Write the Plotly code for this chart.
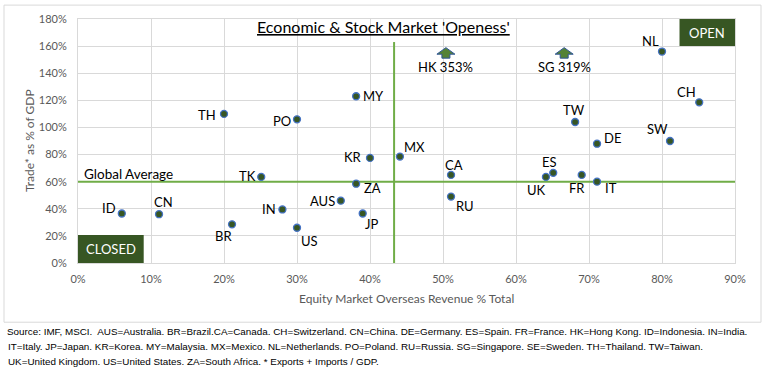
import plotly.graph_objects as go

# ---------------- data ----------------
countries = ["TH", "PO", "MY", "KR", "MX", "NL", "CH", "TW", "DE", "SW", "TK", "ZA", "ID",
             "CN", "BR", "IN", "US", "AUS", "JP", "CA", "RU", "UK", "ES", "FR", "IT"]
overseas_rev = [20.0, 30.0, 38.1, 40.0, 44.1, 80.0, 85.1, 68.1, 71.1, 81.1, 25.1, 38.1, 6.0,
                11.1, 21.1, 28.0, 30.0, 36.0, 39.0, 51.1, 51.1, 64.1, 65.1, 69.0, 71.1]
trade_gdp = [110.0, 106.0, 123.0, 77.5, 78.5, 156.0, 118.5, 104.0, 88.0, 90.0, 63.5, 58.5, 36.5,
             36.0, 28.5, 39.5, 26.0, 46.0, 36.5, 65.0, 49.0, 63.5, 66.5, 65.0, 60.0]

# off-scale economies (shown with an arrow at the top of the chart)
off_names = ["HK", "SG"]
off_rev = [50.4, 66.6]
off_trade = [353, 319]
off_display_level = 155

global_avg_trade = 60
avg_overseas_rev = 43.3
avg_line_top = 163

x_ticks = [0, 10, 20, 30, 40, 50, 60, 70, 80, 90]
y_ticks = [0, 20, 40, 60, 80, 100, 120, 140, 160, 180]
x_tick_labels = [f"{v}%" for v in x_ticks]
y_tick_labels = [f"{v}%" for v in y_ticks]

# ---------------- styles ----------------
FONT = "Lato, Open Sans, Liberation Sans, sans-serif"
GREEN_LINE = "#70AD47"
DARK_GREEN = "#375623"
BLUE = "#4472C4"
GRID = "#D9D9D9"
TICK_COL = "#595959"

# label placement: (xanchor, dx px, dy px (screen, down positive))
label_pos = {
    "TH": ("right", -7, 1), "PO": ("right", -5.5, 1.7), "MY": ("left", 5.4, 0),
    "KR": ("right", -6.7, -1), "MX": ("left", 2.7, -9.3), "NL": ("right", -1.6, -11),
    "CH": ("right", -2, -10), "TW": ("center", -1.3, -12.3), "DE": ("left", 5.7, -5.7),
    "SW": ("right", -0.6, -11.7), "TK": ("right", -4.6, -1), "ZA": ("left", 7, 4.4),
    "ID": ("right", -5, -6), "CN": ("center", 4, -12.6), "BR": ("center", -8.5, 11.4),
    "IN": ("right", -5.7, 0), "US": ("left", 2.7, 13), "AUS": ("right", -5, 0),
    "JP": ("left", 1.7, 10.7), "CA": ("center", 2.5, -10.3), "RU": ("left", 4.4, 9.7),
    "UK": ("right", 1, 12.7), "ES": ("center", -3.6, -11.3), "FR": ("center", -4.3, 13.4),
    "IT": ("left", 6.7, 6.4),
}

# plot-area geometry (pixels)
W, H = 766, 372
L, R, T, B = 78, 31, 17, 109
PW, PH = W - L - R, H - T - B
XMAX, YMAX = 90, 180
px_x = XMAX / PW   # data units per pixel
px_y = YMAX / PH


def paper_x(px):
    return (px - L) / PW


def paper_y(py):
    return (H - B - py) / PH


fig = go.Figure()

# reference lines
fig.add_trace(go.Scatter(x=[0, XMAX], y=[global_avg_trade, global_avg_trade], mode="lines",
                         line=dict(color=GREEN_LINE, width=2), hoverinfo="skip", showlegend=False))
fig.add_trace(go.Scatter(x=[avg_overseas_rev, avg_overseas_rev], y=[0, avg_line_top], mode="lines",
                         line=dict(color=GREEN_LINE, width=2), hoverinfo="skip", showlegend=False))

# countries
fig.add_trace(go.Scatter(x=overseas_rev, y=trade_gdp, mode="markers", text=countries,
                         marker=dict(size=7, color=DARK_GREEN, line=dict(color=BLUE, width=1.3)),
                         showlegend=False))

annotations = []
for name, xv, yv in zip(countries, overseas_rev, trade_gdp):
    anchor, dx, dy = label_pos[name]
    annotations.append(dict(x=xv, y=yv, xref="x", yref="y", text=name, showarrow=False,
                            xanchor=anchor, yanchor="middle", xshift=dx, yshift=-dy,
                            borderpad=0, font=dict(family=FONT, size=13, color="#000000")))

shapes = []
# off-scale arrows
for name, xv, val in zip(off_names, off_rev, off_trade):
    yc = off_display_level
    hw, sw = 9 * px_x, 4 * px_x
    top, base, bot = yc + 5.3 * px_y, yc - 1.3 * px_y, yc - 5.3 * px_y
    path = (f"M{xv},{top} L{xv + hw},{base} L{xv + sw},{base} L{xv + sw},{bot} "
            f"L{xv - sw},{bot} L{xv - sw},{base} L{xv - hw},{base} Z")
    shapes.append(dict(type="path", path=path, xref="x", yref="y",
                       fillcolor="#548235", line=dict(color="#2F5597", width=1)))
    annotations.append(dict(x=xv, y=yc, xref="x", yref="y", text=f"{name} {val}%", showarrow=False,
                            xanchor="center", yanchor="middle", yshift=-14, borderpad=0,
                            font=dict(family=FONT, size=13, color="#000000")))

# OPEN / CLOSED boxes
shapes.append(dict(type="rect", xref="x", yref="y", x0=82.4, x1=90, y0=160, y1=180,
                   fillcolor=DARK_GREEN, line=dict(width=0), layer="above"))
shapes.append(dict(type="rect", xref="x", yref="y", x0=0, x1=9, y0=0, y1=20.7,
                   fillcolor=DARK_GREEN, line=dict(width=0), layer="above"))
annotations.append(dict(x=86.2, y=170, xref="x", yref="y", text="OPEN", showarrow=False,
                        font=dict(family=FONT, size=13, color="white")))
annotations.append(dict(x=4.5, y=10.3, xref="x", yref="y", text="CLOSED", showarrow=False,
                        font=dict(family=FONT, size=13, color="white")))

annotations.append(dict(x=paper_x(83), y=global_avg_trade, xref="paper", yref="y", text="Global Average",
                        showarrow=False, xanchor="left", yanchor="middle", yshift=8, borderpad=0,
                        font=dict(family=FONT, size=13.5, color="#000000")))

# title
annotations.append(dict(x=paper_x(383), y=paper_y(25), xref="paper", yref="paper",
                        text="<u>Economic &amp; Stock Market 'Openess'</u>", showarrow=False,
                        xanchor="center", yanchor="middle",
                        font=dict(family=FONT, size=16, color="#000000")))

# axis titles
annotations.append(dict(x=paper_x(406), y=paper_y(299), xref="paper", yref="paper",
                        text="Equity Market Overseas Revenue % Total", showarrow=False,
                        xanchor="center", yanchor="middle",
                        font=dict(family=FONT, size=12, color=TICK_COL)))
annotations.append(dict(x=paper_x(29), y=paper_y(140), xref="paper", yref="paper",
                        text="Trade* as % of GDP", showarrow=False, textangle=-90,
                        xanchor="center", yanchor="middle",
                        font=dict(family=FONT, size=12, color=TICK_COL)))

# source notes
source_lines = [
    "Source: IMF, MSCI.  AUS=Australia. BR=Brazil.CA=Canada. CH=Switzerland. CN=China. DE=Germany. ES=Spain. FR=France. HK=Hong Kong. ID=Indonesia. IN=India.",
    "IT=Italy. JP=Japan. KR=Korea. MY=Malaysia. MX=Mexico. NL=Netherlands. PO=Poland. RU=Russia. SG=Singapore. SE=Sweden. TH=Thailand. TW=Taiwan.",
    "UK=United Kingdom. US=United States. ZA=South Africa. * Exports + Imports / GDP.",
]
for line, lx, ly in zip(source_lines, [6, 7, 7], [332.5, 347.5, 362]):
    annotations.append(dict(x=paper_x(lx), y=paper_y(ly), xref="paper", yref="paper", text=line,
                            showarrow=False, xanchor="left", yanchor="middle", borderpad=0,
                            font=dict(family="Liberation Sans, sans-serif", size=9.85, color="#000000")))

# chart border
shapes.append(dict(type="rect", xref="paper", yref="paper", x0=paper_x(4), x1=paper_x(761),
                   y0=paper_y(322.7), y1=paper_y(3), line=dict(color=GRID, width=1), layer="below"))

fig.update_layout(
    width=W, height=H,
    margin=dict(l=L, r=R, t=T, b=B),
    paper_bgcolor="white", plot_bgcolor="white",
    shapes=shapes, annotations=annotations,
    showlegend=False,
    xaxis=dict(range=[0, XMAX], tickmode="array", tickvals=x_ticks, ticktext=x_tick_labels,
               showgrid=True, gridcolor=GRID, gridwidth=1, zeroline=False, showline=True,
               mirror=True, linecolor=GRID, ticks="", ticklabelstandoff=6,
               tickfont=dict(family=FONT, size=11, color=TICK_COL), fixedrange=True),
    yaxis=dict(range=[0, YMAX], tickmode="array", tickvals=y_ticks, ticktext=y_tick_labels,
               showgrid=True, gridcolor=GRID, gridwidth=1, zeroline=False, showline=True,
               mirror=True, linecolor=GRID, ticks="", ticklabelstandoff=8,
               tickfont=dict(family=FONT, size=11, color=TICK_COL), fixedrange=True),
)

fig.write_html("out.html", config={"displayModeBar": False},
               post_script="document.body.style.margin='0';document.body.style.overflow='hidden';")
